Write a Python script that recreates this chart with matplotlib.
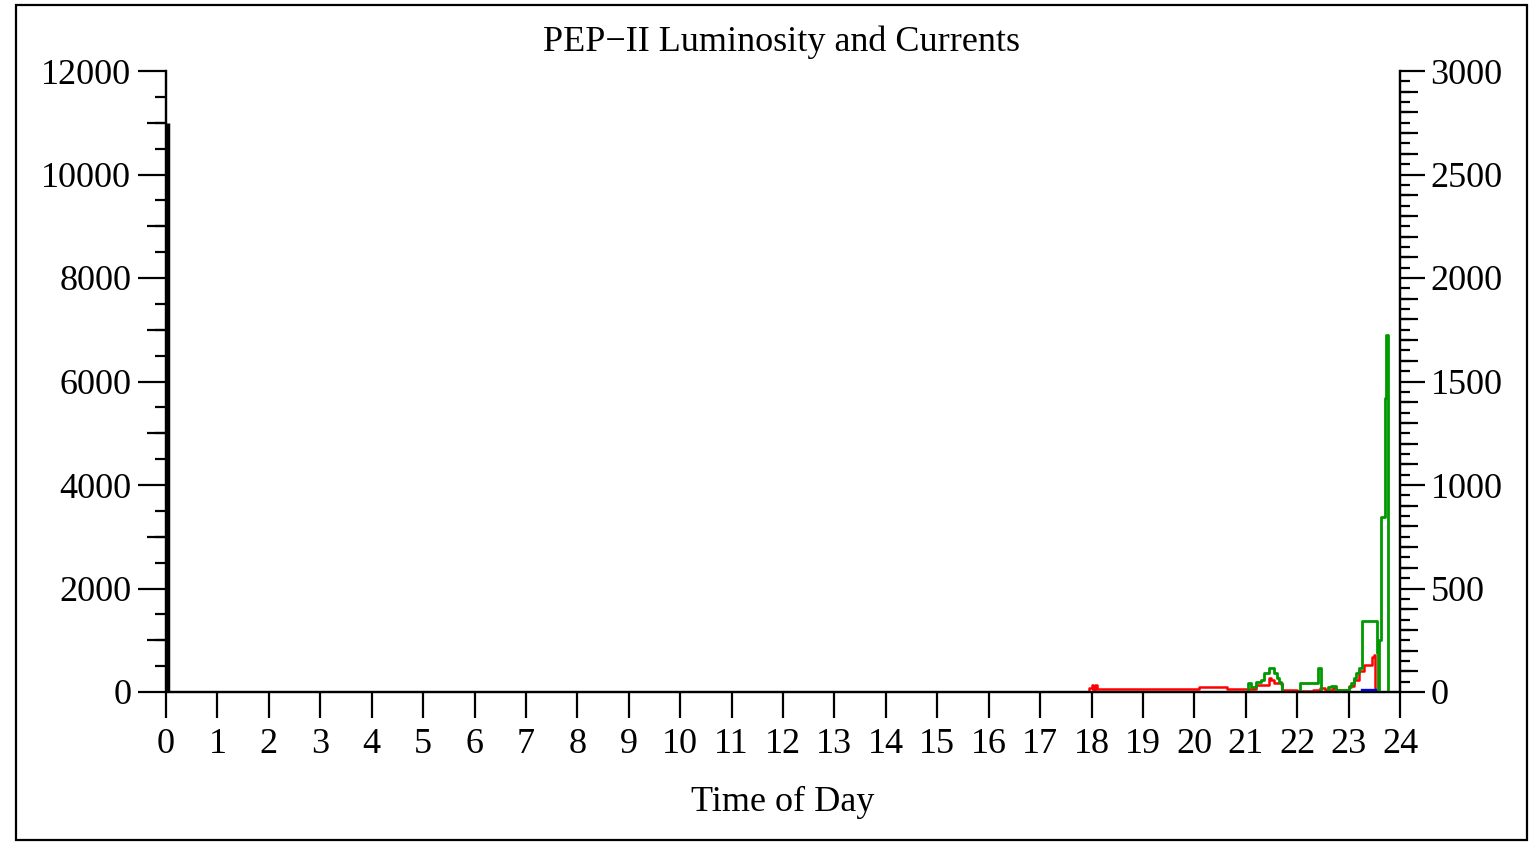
import matplotlib
matplotlib.use("Agg")
import matplotlib.pyplot as plt
from matplotlib.patches import Rectangle
from matplotlib.ticker import MultipleLocator

plt.rcParams['font.family'] = ['Liberation Serif', 'DejaVu Serif']

# luminosity (left axis)
lumi_t = [0.03, 0.03]
lumi_v = [0, 11000]

# currents (right axis, mA)
red_t = [17.93, 17.95, 18.0, 18.03, 18.07, 18.1, 20.1, 20.63, 21.0, 21.2, 21.45, 21.5,
         21.55, 21.7, 22.0, 22.3, 22.45, 22.55, 22.7, 22.75, 23.0, 23.1, 23.2, 23.3,
         23.45, 23.5, 23.52]
red_v = [0, 20, 34, 10, 34, 13, 23, 13, 13, 35, 70, 60,
         45, 10, 5, 10, 20, 8, 20, 10, 30, 60, 100, 130,
         170, 179, 0]

green_t = [21.0, 21.05, 21.1, 21.2, 21.3, 21.35, 21.45, 21.5, 21.55, 21.6, 21.65, 21.68,
           21.7, 22.0, 22.05, 22.37, 22.4, 22.47, 22.6, 22.65, 22.75, 22.9, 23.0, 23.05,
           23.1, 23.15, 23.2, 23.27, 23.52, 23.55, 23.58, 23.6, 23.64, 23.7, 23.73, 23.77]
green_v = [0, 43, 25, 50, 60, 90, 116, 116, 90, 70, 50, 40,
           0, 0, 42, 42, 116, 0, 25, 30, 8, 8, 25, 45,
           70, 90, 115, 344, 344, 190, 0, 250, 847, 1420, 1725, 0]

blue_t = [23.27, 23.52]
blue_v = [12, 12]

hours = list(range(0, 25))

fig = plt.figure(figsize=(15.34, 8.43), dpi=100)
fig.patches.append(Rectangle((16 / 1534, 3 / 843), 1511 / 1534, 835 / 843,
                             transform=fig.transFigure, fill=False,
                             edgecolor='black', linewidth=1.6))

ax = fig.add_axes([166 / 1534, 1 - 692 / 843, 1234 / 1534, 621 / 843])
ax2 = ax.twinx()

ax.plot(lumi_t, lumi_v, color='black', linewidth=2.5, solid_capstyle='butt')
ax2.plot(red_t, red_v, color='#ff0000', linewidth=1.8, drawstyle='steps-post')
ax2.plot(green_t, green_v, color='#009900', linewidth=2.0, drawstyle='steps-post')
ax2.plot(blue_t, blue_v, color='#0000ff', linewidth=2.4)

ax.set_xlim(0, 24)
ax.set_ylim(0, 12000)
ax2.set_ylim(0, 3000)

for a in (ax, ax2):
    a.spines['top'].set_visible(False)
    a.spines['left'].set_linewidth(1.6)
    a.spines['right'].set_linewidth(1.6)
    a.spines['bottom'].set_linewidth(1.6)

fs = 26
ax.set_xticks(hours)
ax.tick_params(axis='x', direction='out', length=19, width=1.6, pad=7, labelsize=fs)
ax.yaxis.set_major_locator(MultipleLocator(2000))
ax.yaxis.set_minor_locator(MultipleLocator(500))
ax.tick_params(axis='y', which='major', direction='out', length=20, width=1.6, pad=5, labelsize=fs)
ax.tick_params(axis='y', which='minor', direction='out', length=8, width=1.6)

ax2.yaxis.set_major_locator(MultipleLocator(500))
ax2.yaxis.set_minor_locator(MultipleLocator(50))
ax2.tick_params(axis='y', which='major', direction='out', length=18, width=1.6, pad=4, labelsize=fs)
ax2.tick_params(axis='y', which='minor', direction='out', length=7, width=1.6)

# medium ticks at every 1000 (left) and every 100 (right)
secl = ax.secondary_yaxis('left')
secl.set_yticks([v for v in range(1000, 12000, 2000)])
secl.tick_params(direction='out', length=14, width=1.6, labelleft=False)
secl.spines['left'].set_visible(False)
secr = ax2.secondary_yaxis('right')
secr.set_yticks([v for v in range(100, 3000, 100) if v % 500])
secr.tick_params(direction='out', length=13, width=1.6, labelright=False)
secr.spines['right'].set_visible(False)

ax.set_xlabel('Time of Day', fontsize=fs, labelpad=18)
fig.text(782 / 1534, 1 - 42 / 843, 'PEP\u2212II Luminosity and Currents',
         ha='center', va='center', fontsize=fs)

fig.savefig('out.png', dpi=100)
